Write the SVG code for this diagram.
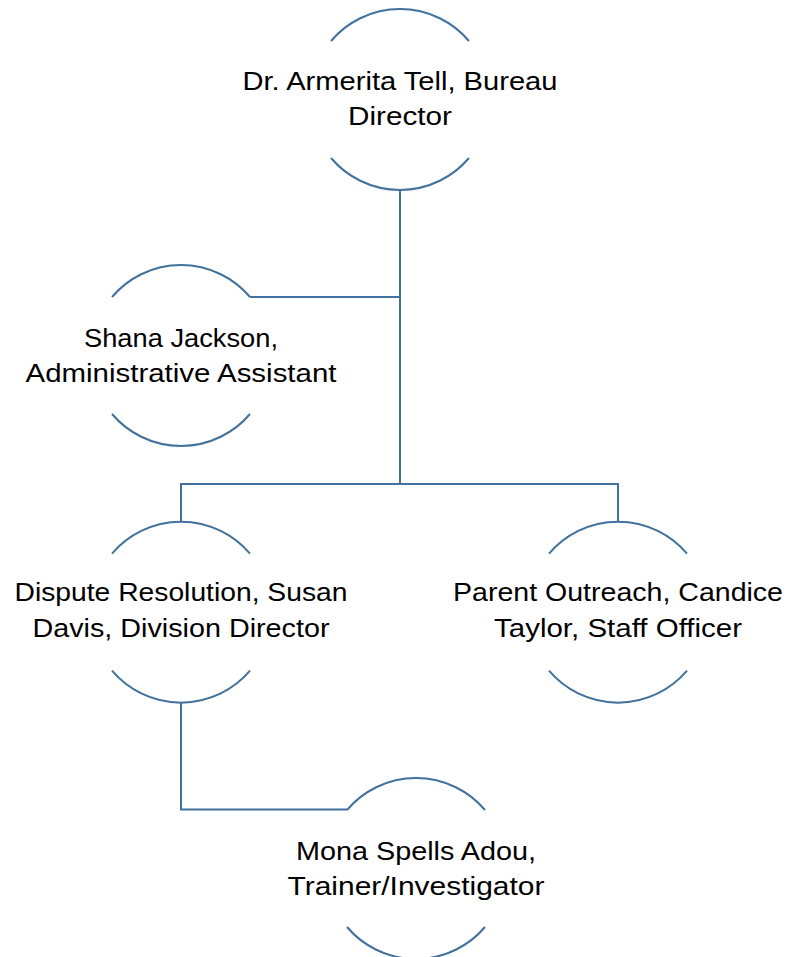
<svg xmlns="http://www.w3.org/2000/svg" width="788" height="957" viewBox="0 0 788 957">
<style>
.arc{fill:none;stroke:#41719C;stroke-width:2}
.con{fill:none;stroke:#41719C;stroke-width:2}
text{font-family:"Liberation Sans",Arial,sans-serif;font-size:26px;fill:#000;text-anchor:middle}
</style>
<rect width="788" height="957" fill="#fff"/>
<g id="connectors">
<path class="con" d="M400 190 V484"/>
<path class="con" d="M250 297 H400"/>
<path class="con" d="M181 521.5 V484 H618 V521.5"/>
<path class="con" d="M181 703 V809.5 H347"/>
</g>
<g id="n-director">
<path class="arc" d="M331 41 A90.5 90.5 0 0 1 469 41 M331 158 A90.5 90.5 0 0 0 469 158"/>
<text x="400" y="89.5" textLength="315" lengthAdjust="spacingAndGlyphs">Dr. Armerita Tell, Bureau</text>
<text x="400" y="125" textLength="104" lengthAdjust="spacingAndGlyphs">Director</text>
</g>
<g id="n-shana">
<path class="arc" d="M112 297 A90.5 90.5 0 0 1 250 297 M112 414 A90.5 90.5 0 0 0 250 414"/>
<text x="181" y="347" textLength="194" lengthAdjust="spacingAndGlyphs">Shana Jackson,</text>
<text x="181" y="382" textLength="311" lengthAdjust="spacingAndGlyphs">Administrative Assistant</text>
</g>
<g id="n-dispute">
<path class="arc" d="M112 553.7 A90.5 90.5 0 0 1 250 553.7 M112 670.7 A90.5 90.5 0 0 0 250 670.7"/>
<text x="181" y="601" textLength="333" lengthAdjust="spacingAndGlyphs">Dispute Resolution, Susan</text>
<text x="181" y="637" textLength="297" lengthAdjust="spacingAndGlyphs">Davis, Division Director</text>
</g>
<g id="n-parent">
<path class="arc" d="M549 553.7 A90.5 90.5 0 0 1 687 553.7 M549 670.7 A90.5 90.5 0 0 0 687 670.7"/>
<text x="618" y="601" textLength="330" lengthAdjust="spacingAndGlyphs">Parent Outreach, Candice</text>
<text x="618" y="637" textLength="248" lengthAdjust="spacingAndGlyphs">Taylor, Staff Officer</text>
</g>
<g id="n-mona">
<path class="arc" d="M347 810 A90.5 90.5 0 0 1 485 810 M347 927 A90.5 90.5 0 0 0 485 927"/>
<text x="416" y="860" textLength="240" lengthAdjust="spacingAndGlyphs">Mona Spells Adou,</text>
<text x="416" y="895" textLength="257" lengthAdjust="spacingAndGlyphs">Trainer/Investigator</text>
</g>
</svg>
